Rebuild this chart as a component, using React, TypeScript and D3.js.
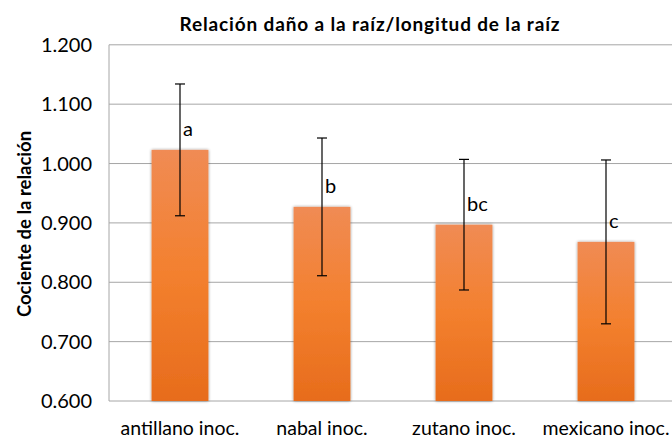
import React from "react";
import * as d3 from "d3";

const categories = ["antillano inoc.", "nabal inoc.", "zutano inoc.", "mexicano inoc."];
const means = [1.023, 0.927, 0.897, 0.868];
const errors = [0.111, 0.116, 0.110, 0.138];
const letters = ["a", "b", "bc", "c"];
const yTicks = [0.6, 0.7, 0.8, 0.9, 1.0, 1.1, 1.2];

const W = 672;
const H = 439;
const M = { left: 109, top: 44.8, right: 677, bottom: 401 };
const FONT = "Lato, 'Open Sans', sans-serif";

export default function App() {
  const x = d3.scaleBand<string>().domain(categories).range([M.left, M.right]).paddingInner(0.6).paddingOuter(0.3);
  const y = d3.scaleLinear().domain([0.6, 1.2]).range([M.bottom, M.top]);
  const bw = x.bandwidth();
  const fmt = d3.format(".3f");
  return (
    <svg width={W} height={H} style={{ position: "absolute", left: 0, top: 0, background: "#fff" }}>
      <defs>
        <linearGradient id="barGrad" x1="0" y1="0" x2="0" y2="1">
          <stop offset="0%" stopColor="#F08B54" />
          <stop offset="50%" stopColor="#F3802E" />
          <stop offset="100%" stopColor="#E76C1C" />
        </linearGradient>
        <filter id="shadow" x="-20%" y="-5%" width="140%" height="110%">
          <feGaussianBlur in="SourceAlpha" stdDeviation="1.5" />
          <feOffset dx="0" dy="0" result="b" />
          <feComponentTransfer><feFuncA type="linear" slope="0.45" /></feComponentTransfer>
          <feMerge><feMergeNode /><feMergeNode in="SourceGraphic" /></feMerge>
        </filter>
      </defs>
      <text x={370} y={31} textAnchor="middle" fontFamily={FONT} fontWeight="bold" fontSize={19} letterSpacing={0.85} fill="#000">
        Relación daño a la raíz/longitud de la raíz
      </text>
      {yTicks.map((t) => (
        <g key={t}>
          {t > 0.6 && (
            <line x1={M.left} x2={M.right} y1={y(t)} y2={y(t)} stroke="#A6A6A6" strokeWidth={1} />
          )}
          <text x={92} y={y(t) + 7} textAnchor="end" fontFamily={FONT} fontSize={20} fill="#000">
            {fmt(t)}
          </text>
        </g>
      ))}
      <line x1={M.left} x2={M.left} y1={M.top} y2={M.bottom} stroke="#A6A6A6" />
      <line x1={M.left} x2={M.right} y1={M.bottom} y2={M.bottom} stroke="#A6A6A6" />
      <text transform={`translate(31,224) rotate(-90)`} textAnchor="middle" fontFamily={FONT} fontWeight="bold" fontSize={18.5} fill="#000">
        Cociente de la relación
      </text>
      {categories.map((c, i) => {
        const x0 = x(c)!;
        const cx = x0 + bw / 2;
        return (
          <g key={c}>
            <rect x={x0} y={y(means[i])} width={bw} height={M.bottom - y(means[i])} fill="url(#barGrad)" filter="url(#shadow)" />
            <line x1={cx} x2={cx} y1={y(means[i] + errors[i])} y2={y(means[i] - errors[i])} stroke="#000" strokeWidth={1.2} />
            <line x1={cx - 5} x2={cx + 5} y1={y(means[i] + errors[i])} y2={y(means[i] + errors[i])} stroke="#000" strokeWidth={1.2} />
            <line x1={cx - 5} x2={cx + 5} y1={y(means[i] - errors[i])} y2={y(means[i] - errors[i])} stroke="#000" strokeWidth={1.2} />
            <text x={cx + 3} y={y(means[i]) - 14} fontFamily={FONT} fontSize={20} fill="#000">
              {letters[i]}
            </text>
            <text x={cx} y={434.5} textAnchor="middle" fontFamily={FONT} fontSize={19.5} fill="#000">
              {c}
            </text>
          </g>
        );
      })}
    </svg>
  );
}
